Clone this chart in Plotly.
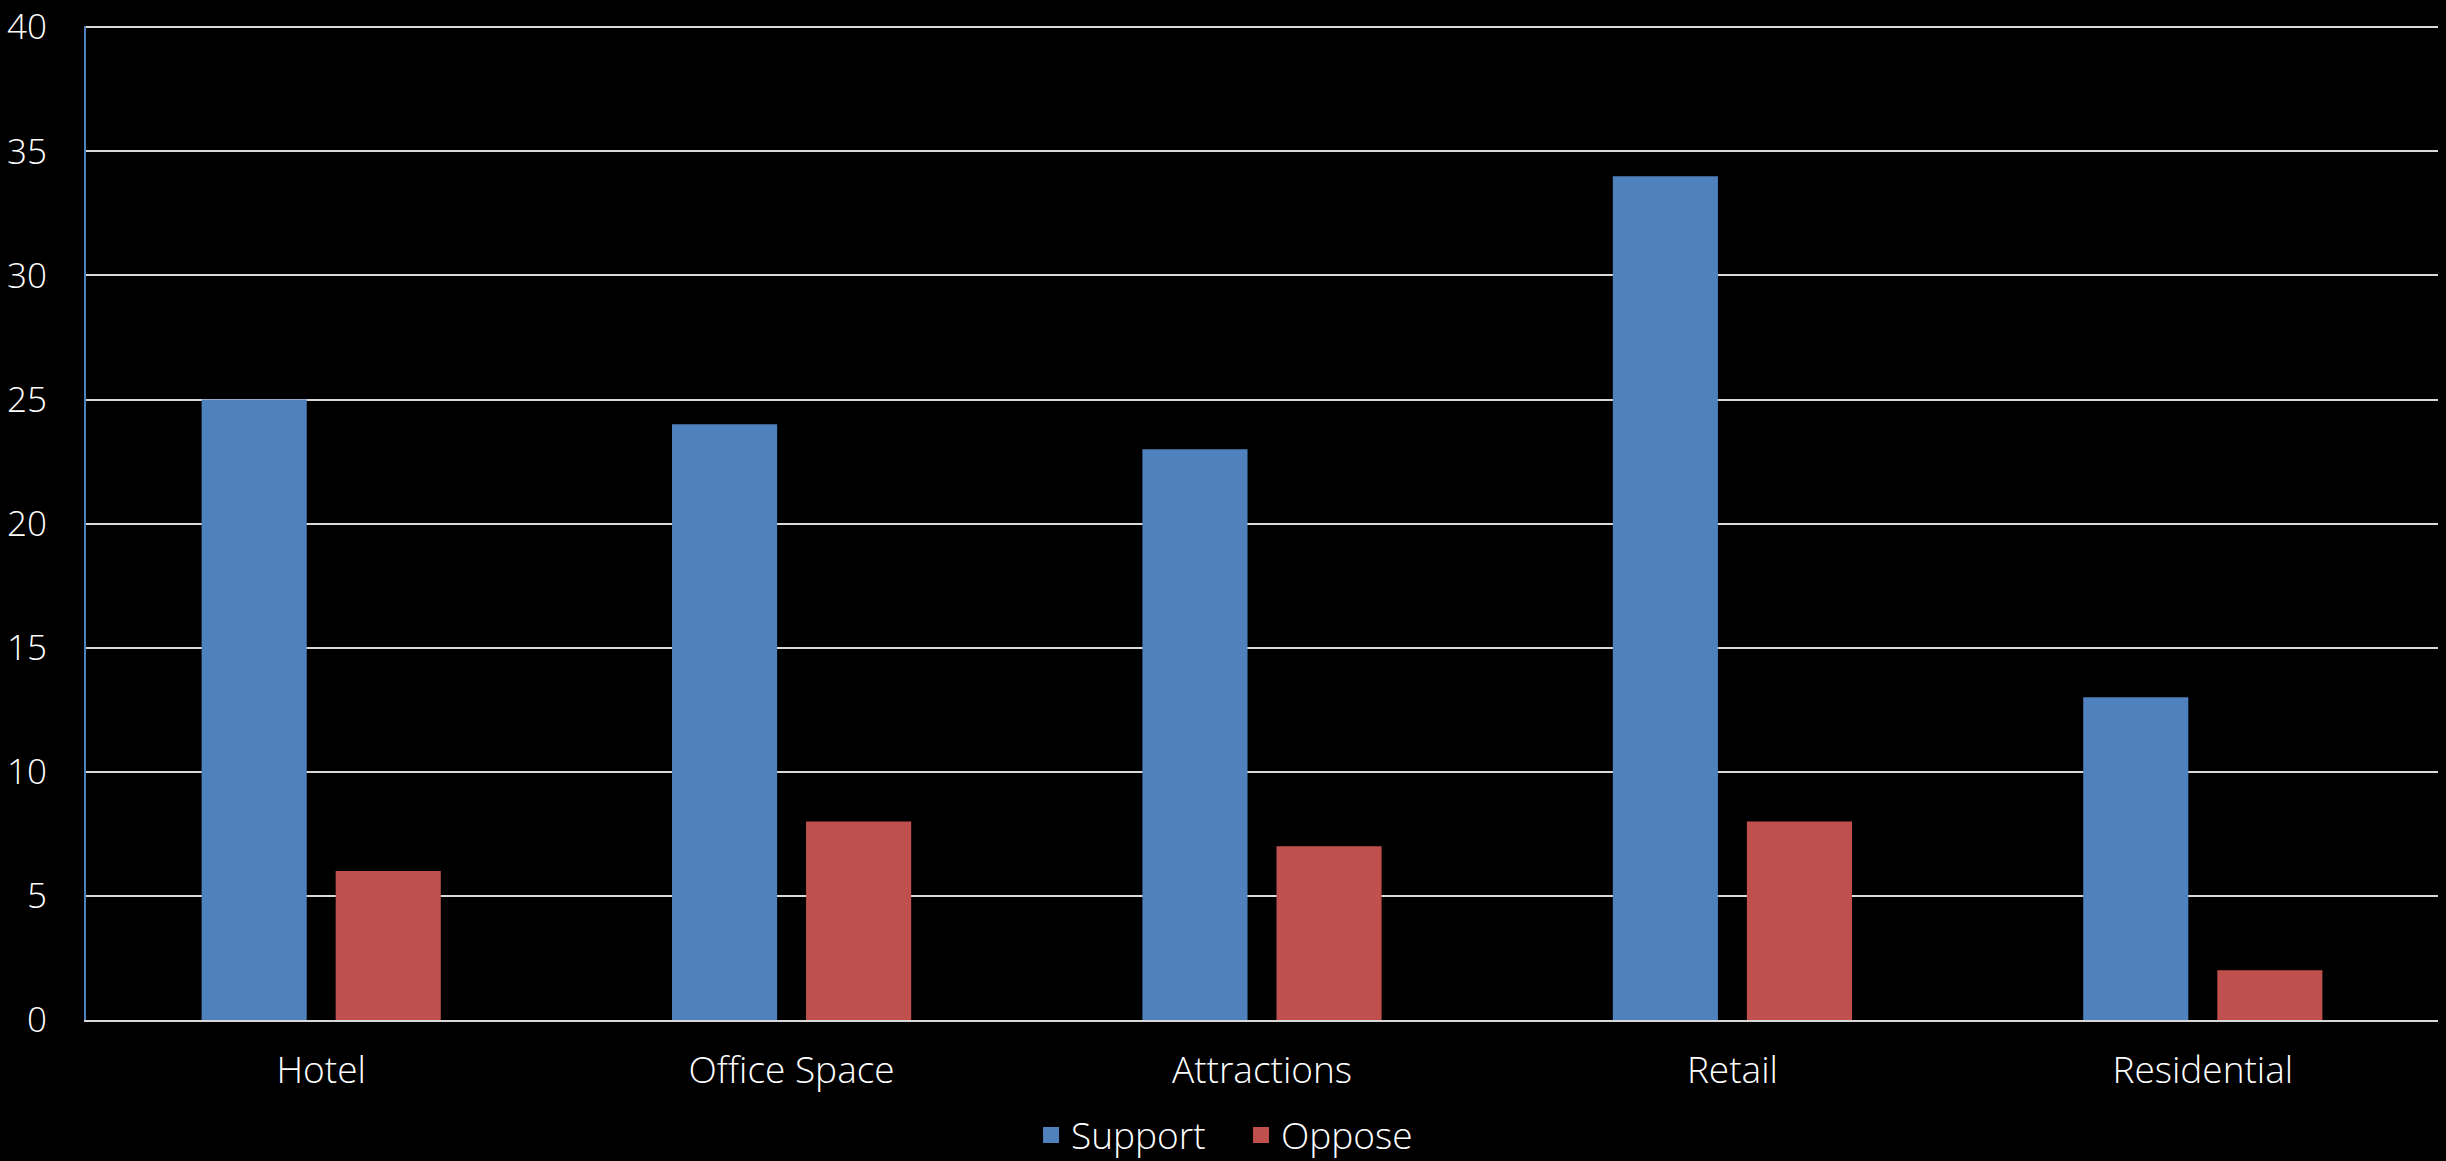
import plotly.graph_objects as go

# Survey responses by development type
categories = ["Hotel", "Office Space", "Attractions", "Retail", "Residential"]
support = [25, 24, 23, 34, 13]
oppose = [6, 8, 7, 8, 2]
y_ticks = [0, 5, 10, 15, 20, 25, 30, 35, 40]

series = [("Support", support, "#4F81BD"), ("Oppose", oppose, "#C0504D")]

FONT = "Open Sans"
TXT = "#ffffff"
FS = 37

fig = go.Figure()
for name, vals, color in series:
    fig.add_trace(go.Bar(name=name, x=categories, y=vals, showlegend=False,
                         marker=dict(color=color, line=dict(width=0))))
# legend entries with larger square swatches
for name, vals, color in series:
    fig.add_trace(go.Scatter(name=name, x=[None], y=[None], mode="markers",
                             marker=dict(symbol="square", size=20, color=color),
                             showlegend=True, hoverinfo="skip"))

fig.update_layout(
    width=2446, height=1161,
    paper_bgcolor="#000000", plot_bgcolor="#000000",
    margin=dict(l=86, r=8, t=26, b=141, autoexpand=False),
    barmode="group", bargap=0.43, bargroupgap=0.216,
    font=dict(family=FONT, size=FS, color=TXT, weight=300),
    showlegend=True,
    legend=dict(orientation="h", x=0.4018, xanchor="left",
                yref="container", y=0.022, yanchor="middle",
                entrywidth=165, entrywidthmode="pixels",
                font=dict(family=FONT, size=FS, color=TXT, weight=300),
                itemwidth=30, traceorder="normal", tracegroupgap=0,
                bgcolor="rgba(0,0,0,0)"),
)
fig.update_xaxes(
    showgrid=False, showline=True, linecolor="#d9d9d9", linewidth=2,
    ticks="outside", ticklen=17, tickcolor="rgba(0,0,0,0)",
    tickfont=dict(family=FONT, size=FS, color=TXT, weight=300),
)
fig.update_yaxes(
    range=[0, 40.05], tickvals=y_ticks, ticktext=[str(v) for v in y_ticks],
    showgrid=True, gridcolor="#d9d9d9", gridwidth=2,
    showline=True, linecolor="#4F81BD", linewidth=2,
    zeroline=False, ticklabeloverflow="allow",
    ticks="outside", ticklen=30, tickcolor="rgba(0,0,0,0)",
    tickfont=dict(family=FONT, size=35, color=TXT, weight=300),
)

fig.write_html("out.html")
